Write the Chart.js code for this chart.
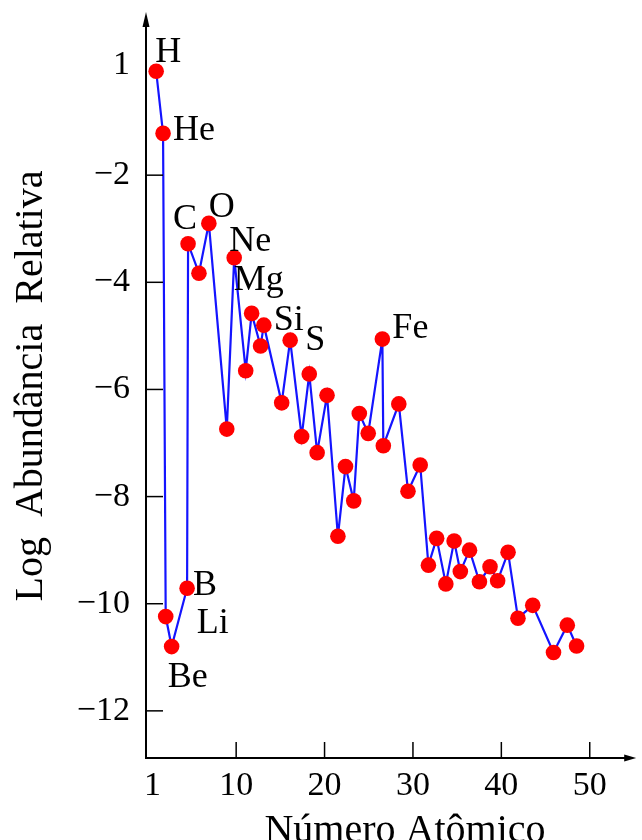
<!DOCTYPE html>
<html>
<head>
<meta charset="utf-8">
<script src="https://cdn.jsdelivr.net/npm/chart.js@4.4.1/dist/chart.umd.min.js"></script>
<style>
  html, body { margin: 0; padding: 0; background: #fff; }
  canvas { display: block; }
</style>
</head>
<body>
<canvas id="myChart" width="642" height="840"></canvas>
<script>
// Número atômico (posição) e log da abundância relativa
const atomicX = [0.95, 1.73, 2.03, 2.70, 4.45, 4.56, 5.79, 6.91, 8.94, 9.78,
    11.08, 11.75, 12.76, 13.13, 15.15, 16.11, 17.41, 18.27, 19.16, 20.28,
    21.51, 22.37, 23.30, 23.93, 24.94, 26.54, 26.65, 28.40, 29.44, 30.82,
    31.75, 32.68, 33.72, 34.66, 35.36, 36.40, 37.52, 38.72, 39.58, 40.76,
    41.88, 43.55, 45.90, 47.46, 48.51];
const logAbund = [-0.06, -1.22, -10.24, -10.80, -9.71, -3.28, -3.83, -2.90, -6.74, -3.54,
    -5.65, -4.58, -5.19, -4.80, -6.25, -5.08, -6.88, -5.71, -7.18, -6.11,
    -8.74, -7.44, -8.08, -6.45, -6.82, -5.06, -7.05, -6.27, -7.90, -7.41,
    -9.28, -8.78, -9.63, -8.83, -9.40, -9.00, -9.59, -9.31, -9.57, -9.04,
    -10.27, -10.03, -10.91, -10.40, -10.79];
// rótulos dos elementos (vazio = sem rótulo)
const elementNames = ['H', 'He', 'Li', 'Be', 'B', 'C', '', 'O', '', 'Ne',
    '', 'Mg', '', 'Si', '', 'S', '', '', '', '',
    '', '', '', '', '', 'Fe', '', '', '', '',
    '', '', '', '', '', '', '', '', '', '',
    '', '', '', '', ''];

const xTickValues = [1, 10, 20, 30, 40, 50];
const xTickLabels = ['1', '10', '20', '30', '40', '50'];
const yTickValues = [0, -2, -4, -6, -8, -10, -12];
const yTickLabels = ['1', '\u22122', '\u22124', '\u22126', '\u22128', '\u221210', '\u221212'];

const xTitle = 'Número Atômico';
const yTitle = 'Log  Abundância  Relativa';

const serif = "'Liberation Serif', 'DejaVu Serif', serif";

// deslocamento do texto (borda esquerda, linha de base) em relação ao ponto
const labelOffsets = {
    H: [-1, -9], He: [10, 7], Li: [31, 16], Be: [-4, 40], B: [6, 7],
    C: [-15, -15], O: [0, -6], Ne: [-5, -7], Mg: [-18, -23],
    Si: [10, 5], S: [15, 10], Fe: [10, -1]
};

const axesPlugin = {
    id: 'axesPlugin',
    afterDatasetsDraw(chart) {
        const ctx = chart.ctx;
        const xs = chart.scales.x;
        const ys = chart.scales.y;
        const x0 = xs.getPixelForValue(xs.min);
        const y0 = ys.getPixelForValue(ys.min);
        const top = chart.chartArea.top;
        const right = chart.chartArea.right;

        ctx.save();
        ctx.strokeStyle = '#000';
        ctx.fillStyle = '#000';

        // eixos
        ctx.lineWidth = 2;
        ctx.beginPath();
        ctx.moveTo(x0, top + 2);
        ctx.lineTo(x0, y0);
        ctx.lineTo(right - 2, y0);
        ctx.stroke();

        // setas
        ctx.beginPath();
        ctx.moveTo(x0, top - 3);
        ctx.lineTo(x0 - 3.5, top + 12);
        ctx.lineTo(x0 + 3.5, top + 12);
        ctx.closePath();
        ctx.fill();
        ctx.beginPath();
        ctx.moveTo(right + 2, y0);
        ctx.lineTo(right - 10, y0 - 3.5);
        ctx.lineTo(right - 10, y0 + 3.5);
        ctx.closePath();
        ctx.fill();

        // marcas para dentro
        ctx.lineWidth = 1.5;
        xTickValues.forEach((v, i) => {
            const px = xs.getPixelForValue(v);
            if (i > 0) {
                ctx.beginPath();
                ctx.moveTo(px, y0);
                ctx.lineTo(px, y0 - 16);
                ctx.stroke();
            }
        });
        yTickValues.forEach((v, i) => {
            const py = ys.getPixelForValue(v);
            if (i > 0) {
                ctx.beginPath();
                ctx.moveTo(x0, py);
                ctx.lineTo(x0 + 17, py);
                ctx.stroke();
            }
        });

        // rótulos das marcas
        ctx.font = '34px ' + serif;
        ctx.textAlign = 'center';
        ctx.textBaseline = 'middle';
        xTickValues.forEach((v, i) => {
            ctx.fillText(xTickLabels[i], xs.getPixelForValue(v) - (i === 0 ? 4 : 0), y0 + 28);
        });
        ctx.textAlign = 'right';
        yTickValues.forEach((v, i) => {
            ctx.fillText(yTickLabels[i], x0 - 16, ys.getPixelForValue(v) - (i === 0 ? 3 : 0));
        });

        // títulos
        ctx.font = '40px ' + serif;
        ctx.textAlign = 'center';
        ctx.textBaseline = 'alphabetic';
        ctx.fillText(xTitle, 405, 842);
        ctx.save();
        ctx.translate(42, 386);
        ctx.rotate(-Math.PI / 2);
        ctx.fillText(yTitle, 0, 0);
        ctx.restore();

        // nomes dos elementos
        const meta = chart.getDatasetMeta(0);
        ctx.font = '36px ' + serif;
        ctx.textAlign = 'left';
        elementNames.forEach((name, i) => {
            if (!name) return;
            const pt = meta.data[i];
            const off = labelOffsets[name] || [8, 0];
            ctx.fillText(name, pt.x + off[0], pt.y + off[1]);
        });
        ctx.restore();
    }
};

const ctx = document.getElementById('myChart').getContext('2d');
window.myChart = new Chart(ctx, {
    type: 'line',
    data: {
        datasets: [{
            data: atomicX.map((x, i) => ({x: x, y: logAbund[i]})),
            borderColor: 'rgb(20, 20, 255)',
            borderWidth: 2.2,
            pointRadius: 7.8,
            pointHoverRadius: 7.8,
            pointBackgroundColor: '#ff0000',
            pointBorderWidth: 0,
            tension: 0,
            fill: false
        }]
    },
    options: {
        responsive: false,
        animation: false,
        events: [],
        layout: {padding: {left: 146, right: 2, top: 15, bottom: 82}},
        plugins: {legend: {display: false}, tooltip: {enabled: false}},
        scales: {
            x: {type: 'linear', min: -0.2, max: 55.03, display: false},
            y: {type: 'linear', min: -12.88, max: 0.99, display: false}
        }
    },
    plugins: [axesPlugin]
});
</script>
</body>
</html>
